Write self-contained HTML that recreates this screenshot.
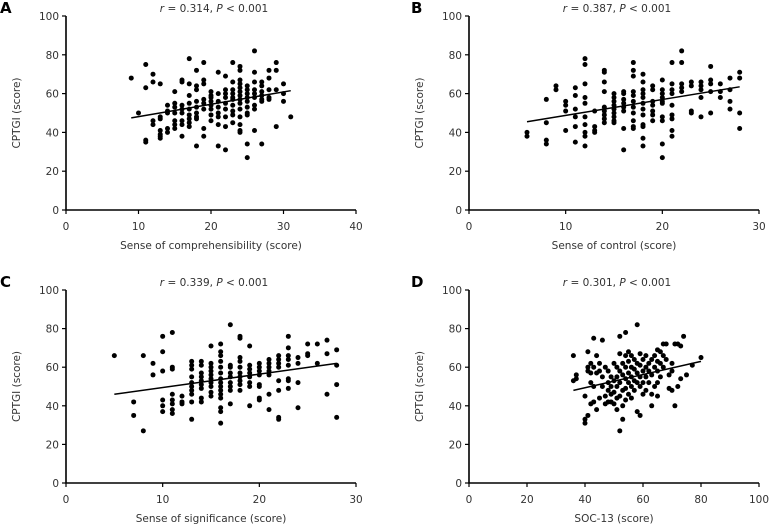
<!DOCTYPE html>
<html><head><meta charset="utf-8"><style>
html,body{margin:0;padding:0;background:#fff;}
svg{display:block;font-family:"DejaVu Sans","Liberation Sans",sans-serif;}
</style></head><body>
<svg id="fig" width="771" height="528" viewBox="0 0 771 528"></svg>
<script>
// Panel A data
const aX=[9,10,11,11,11,11,12,12,12,12,13,13,13,13,13,13,13,14,14,14,14,14,15,15,15,15,15,15,15,16,16,16,16,16,16,16,16,17,17,17,17,17,17,17,17,17,18,18,18,18,18,18,18,18,18,19,19,19,19,19,19,19,19,20,20,20,20,20,20,20,20,21,21,21,21,21,21,21,21,22,22,22,22,22,22,22,22,22,23,23,23,23,23,23,23,23,23,23,24,24,24,24,24,24,24,24,24,24,24,24,24,24,25,25,25,25,25,25,25,25,25,25,26,26,26,26,26,26,26,26,26,27,27,27,27,27,27,27,28,28,28,28,28,29,29,29,29,30,30,30,31];
const aY=[68,50,75,63,36,35,70,66,46,44,65,48,47,41,39,37,38,54,51,50,42,40,61,55,53,50,46,44,42,67,66,54,52,50,46,44,38,78,65,59,55,52,49,47,45,43,72,64,62,56,53,50,48,47,33,76,67,65,57,55,52,42,38,61,59,58,56,54,52,49,46,71,60,56,53,50,48,44,33,69,62,60,58,55,52,48,43,31,76,66,62,60,58,57,54,51,49,45,74,72,67,65,63,61,59,57,55,52,48,44,41,40,64,62,60,58,56,53,50,49,34,27,82,71,66,62,60,58,54,52,41,66,64,61,59,57,56,34,72,68,62,58,57,76,72,62,43,65,60,56,48];
const aFitX=[9,31], aFitY=[47.5,61.5];
// Panel B data
const bX=[6,6,8,8,8,8,9,9,10,10,10,10,11,11,11,11,11,11,12,12,12,12,12,12,12,12,12,12,13,13,13,13,14,14,14,14,14,14,14,14,14,15,15,15,15,15,15,15,15,15,16,16,16,16,16,16,16,16,17,17,17,17,17,17,17,17,17,17,17,18,18,18,18,18,18,18,18,18,18,18,18,19,19,19,19,19,19,19,20,20,20,20,20,20,20,20,20,20,21,21,21,21,21,21,21,21,21,22,22,22,22,22,23,23,23,23,24,24,24,24,24,25,25,25,25,25,26,26,26,27,27,27,27,28,28,28,28];
const bY=[40,38,57,45,36,34,64,62,56,54,51,41,63,59,52,48,43,35,78,75,65,58,55,48,44,40,38,33,51,43,41,40,72,71,66,61,53,51,49,47,45,60,58,56,54,52,50,48,46,45,61,60,57,55,53,51,42,31,76,72,69,61,59,56,53,50,46,43,42,70,66,62,60,58,55,52,49,44,43,37,33,64,62,56,54,51,49,46,67,62,60,58,56,55,48,46,34,27,76,65,62,60,54,49,47,41,38,82,76,65,63,61,66,64,51,50,66,64,62,58,48,74,67,65,61,50,65,61,58,68,62,56,52,71,68,50,42];
const bFitX=[6,28], bFitY=[45.5,63.5];
// Panel C data
const cX=[5,7,7,8,8,9,9,10,10,10,10,10,10,11,11,11,11,11,11,11,11,12,12,12,13,13,13,13,13,13,13,13,13,13,14,14,14,14,14,14,14,14,14,15,15,15,15,15,15,15,15,15,15,16,16,16,16,16,16,16,16,16,16,16,16,16,16,16,17,17,17,17,17,17,17,17,17,18,18,18,18,18,18,18,18,18,18,19,19,19,19,19,19,19,19,20,20,20,20,20,20,20,20,21,21,21,21,21,21,21,22,22,22,22,22,22,22,22,23,23,23,23,23,23,23,23,24,24,24,24,25,25,25,26,26,27,27,27,28,28,28,28];
const cY=[66,42,35,66,27,62,56,76,68,58,43,40,37,78,60,59,46,43,41,38,36,45,42,41,63,61,59,55,52,50,48,46,42,33,63,61,57,55,53,51,49,44,42,71,62,60,58,56,54,52,50,47,45,72,68,66,63,60,57,54,52,50,48,46,44,39,37,31,82,61,60,57,55,52,50,48,41,76,75,65,63,60,57,55,53,51,48,71,61,59,57,55,52,50,40,62,60,58,56,51,50,44,43,64,62,60,58,56,46,38,66,64,62,60,53,48,34,33,76,70,66,64,61,54,53,49,65,62,52,39,72,67,66,72,62,74,67,46,69,61,51,34];
const cFitX=[5,28], cFitY=[46,62];
// Panel D data
const dX=[36,36,37,37,40,40,40,41,41,41,41,42,42,42,42,43,43,43,43,44,44,44,45,45,45,46,46,46,47,47,47,48,48,48,48,49,49,49,49,50,50,50,50,51,51,51,51,51,52,52,52,52,52,52,53,53,53,53,53,54,54,54,54,54,54,55,55,55,55,55,56,56,56,56,56,57,57,57,57,58,58,58,58,58,59,59,59,59,59,60,60,60,60,61,61,61,61,62,62,62,63,63,63,63,64,64,64,65,65,65,65,65,66,66,66,67,67,67,68,68,69,69,70,70,70,71,71,72,72,73,73,74,75,77,80];
const dY=[66,53,56,54,45,33,31,68,60,58,35,62,57,52,41,75,60,50,42,66,57,38,62,58,44,74,55,50,60,45,41,58,52,48,42,55,50,46,42,62,53,47,41,60,55,50,44,38,76,67,58,52,45,27,62,56,48,40,33,78,66,60,54,49,43,68,63,57,52,46,66,60,55,50,44,64,59,53,48,82,62,57,52,37,67,61,55,50,35,64,58,52,46,66,60,55,48,62,58,52,64,56,46,40,66,60,50,69,63,58,52,45,68,62,55,72,66,60,72,64,56,49,62,58,48,72,40,72,50,71,54,76,56,61,65];
const dFitX=[36,80], dFitY=[48,63];
const yTicks=[0,20,40,60,80,100];
const aTicks=[0,10,20,30,40], bTicks=[0,10,20,30], cTicks=[0,10,20,30], dTicks=[0,20,40,60,80,100];

const NS='http://www.w3.org/2000/svg';
const svg=document.getElementById('fig');
const FS=10.5;
function mk(tag,attrs,parent){const e=document.createElementNS(NS,tag);for(const k in attrs)e.setAttribute(k,attrs[k]);(parent||svg).appendChild(e);return e;}

function panel(id,letter,r,xs,ys,fx,fy,xt,xmax,px0,px1,py0,py1,xtitle,letterX){
  const g=mk('g',{});
  
  
  const sx=v=>px0+(v/xmax)*(px1-px0);
  const sy=v=>py0-(v/100)*(py0-py1);
  const ax=mk('path',{d:`M${px0},${py1} V${py0} H${px1}`,stroke:'#000','stroke-width':1.6,fill:'none'},g);
  
  
  yTicks.forEach(t=>{
    mk('line',{x1:px0-4,x2:px0,y1:sy(t),y2:sy(t),stroke:'#000','stroke-width':1.2},g);
    const tx=mk('text',{x:px0-7,y:sy(t)+4,'text-anchor':'end','font-size':FS,fill:'#333'},g);
    tx.textContent=t;
    
    
  });
  xt.forEach(t=>{
    mk('line',{x1:sx(t),x2:sx(t),y1:py0,y2:py0+4,stroke:'#000','stroke-width':1.2},g);
    const tx=mk('text',{x:sx(t),y:py0+20,'text-anchor':'middle','font-size':FS,fill:'#333'},g);
    tx.textContent=t;
    
    
  });
  for(let i=0;i<xs.length;i++){
    const c=mk('circle',{cx:sx(xs[i]),cy:sy(ys[i]),r:2.5,fill:'#000'},g);
    
    
  }
  const ln=mk('line',{x1:sx(fx[0]),y1:sy(fy[0]),x2:sx(fx[1]),y2:sy(fy[1]),stroke:'#000','stroke-width':1.5},g);
  
  
  const cx=(px0+px1)/2;
  const ti=mk('text',{x:(px0+px1)/2+3,y:py1-4,'text-anchor':'middle','font-size':FS,fill:'#333'},g);
  ti.innerHTML=`<tspan font-style="italic">r</tspan> = ${r}, <tspan font-style="italic">P</tspan> &lt; 0.001`;
  
  
  const xl=mk('text',{x:cx,y:py0+39,'text-anchor':'middle','font-size':FS,fill:'#333'},g);
  xl.textContent=xtitle;
  
  
  const yx=px0-46, yc=(py0+py1)/2;
  const yl=mk('text',{x:yx,y:yc,'text-anchor':'middle','font-size':FS,fill:'#333',transform:`rotate(-90 ${yx} ${yc})`},g);
  yl.textContent='CPTGI (score)';
  
  
  const lt=mk('text',{x:letterX,y:py1-3,'font-size':15,'font-weight':'bold',fill:'#000'},g);
  lt.textContent=letter;
  
  
}
panel('a','A','0.314',aX,aY,aFitX,aFitY,aTicks,40,66,356,210,16,'Sense of comprehensibility (score)',0);
panel('b','B','0.387',bX,bY,bFitX,bFitY,bTicks,30,469,759,210,16,'Sense of control (score)',411);
panel('c','C','0.339',cX,cY,cFitX,cFitY,cTicks,30,66,356,483,290,'Sense of significance (score)',0);
panel('d','D','0.301',dX,dY,dFitX,dFitY,dTicks,100,469,759,483,290,'SOC-13 (score)',411);
</script>
</body></html>
